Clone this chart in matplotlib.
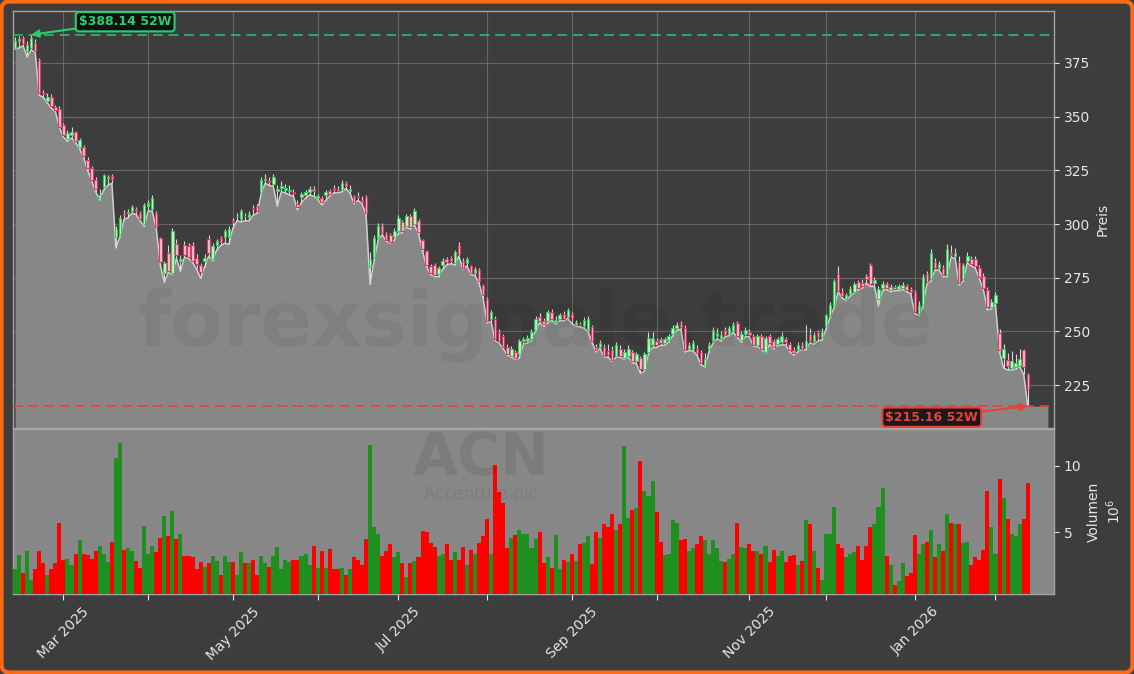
import matplotlib
matplotlib.use("Agg")
import matplotlib.pyplot as plt
import numpy as np
import pandas as pd
from matplotlib.patches import FancyBboxPatch

# ---------------- data ----------------
holidays = ["2025-02-17", "2025-04-18", "2025-05-26", "2025-06-19", "2025-07-04",
            "2025-09-01", "2025-11-27", "2025-12-25", "2026-01-01", "2026-01-19"]
dates = pd.bdate_range("2025-02-12", "2026-02-12")
dates = dates[~dates.isin(pd.to_datetime(holidays))]

opens = [
    382.2, 385.0, 386.5, 380.5, 381.8, 384.2, 376.2, 361.0, 357.4, 359.1, 354.5, 353.5,
    345.9, 339.4, 341.5, 342.9, 336.0, 336.0, 330.0, 326.1, 320.6, 312.1, 317.2, 321.5,
    322.4, 294.1, 295.0, 305.3, 304.9, 306.1, 307.0, 305.3, 300.1, 308.3, 307.0, 305.3,
    293.3, 277.1, 286.5, 277.1, 290.7, 283.0, 290.2, 289.9, 290.2, 284.4, 281.0, 283.0,
    292.9, 283.9, 290.2, 293.3, 294.1, 294.1, 301.5, 303.5, 302.2, 303.8, 303.2, 307.2,
    308.3, 315.0, 320.6, 320.6,
    318.6, 315.5, 317.0, 316.0, 315.2, 315.0, 309.5, 312.6, 313.5, 315.0, 316.4, 312.1,
    312.1, 313.5, 315.5, 317.0, 316.4, 316.0, 319.3, 315.2, 312.4, 313.0, 311.2, 312.6,
    280.0, 284.7, 293.6, 299.6, 295.3, 295.0, 294.1, 296.7, 301.0, 299.3, 303.5, 300.1,
    301.5, 292.4, 287.3, 280.5, 281.0, 276.5, 281.0, 283.7, 284.4, 282.0, 290.2, 283.0,
    281.7, 280.3, 277.1, 278.8, 271.4, 265.1, 255.7, 255.7, 249.7, 248.0, 242.9, 238.6,
    240.3, 239.4, 245.4,
    245.4, 246.3, 250.6, 256.9, 254.8, 254.8, 259.1, 254.5, 255.7, 258.2, 256.9, 257.9,
    253.1, 253.4, 252.6, 250.6, 251.9, 242.9, 242.9, 242.9, 241.0, 241.2, 238.6, 242.0,
    237.7, 238.6, 240.3, 236.0, 237.7, 232.6, 240.3, 243.7, 245.4, 246.3, 244.6, 245.8,
    248.8, 251.4, 253.5, 251.8, 242.0, 242.0, 242.0, 240.3, 234.5, 242.0, 245.4, 248.0,
    246.5, 250.6, 248.8, 250.2, 254.0, 245.8, 249.0, 249.7, 248.0, 243.7, 248.0, 240.6,
    248.0, 245.4, 244.2,
    245.1, 246.3, 244.1, 241.5, 241.2, 243.7, 242.5, 249.0, 245.0, 249.5, 247.5, 252.3,
    257.4, 261.7, 276.5, 268.5, 265.1, 267.6, 268.5, 272.8, 272.5, 275.7, 280.8, 272.3,
    265.1, 270.2, 271.9, 269.4, 270.7, 269.7, 270.2, 271.1, 269.7, 268.5, 258.2, 262.5,
    276.5, 274.5, 282.2, 279.6, 279.6, 276.2, 286.5, 285.1, 282.2, 274.5, 283.0, 283.9,
    283.5, 279.6, 275.7, 269.4, 261.2, 263.4, 249.2, 237.7, 236.5, 233.0, 233.5, 234.0,
    241.2, 230.0,
]
highs = [
    387.0, 387.5, 387.5, 385.0, 388.14, 386.0, 377.5, 362.5, 361.0, 360.5, 355.5, 355.0,
    347.0, 344.0, 345.0, 343.5, 340.0, 337.0, 331.0, 327.0, 322.0, 316.4, 323.5, 323.0,
    323.5, 299.0, 304.0, 306.5, 307.0, 309.0, 308.0, 306.0, 310.0, 311.0, 313.5, 306.0,
    294.0, 283.0, 290.0, 298.0, 293.0, 285.5, 292.0, 291.0, 291.5, 286.0, 282.0, 286.0,
    295.0, 291.0, 293.0, 294.5, 297.5, 299.0, 303.0, 305.0, 307.0, 305.0, 306.0, 309.0,
    309.5, 322.0, 323.5, 322.0,
    323.5, 318.0, 320.0, 318.5, 318.0, 316.5, 311.0, 315.0, 316.0, 317.5, 317.5, 314.0,
    313.0, 316.0, 316.5, 318.0, 317.5, 320.5, 320.0, 318.0, 313.5, 315.0, 313.0, 313.5,
    287.0, 295.0, 300.5, 300.5, 296.5, 296.0, 298.0, 304.0, 302.0, 304.5, 304.5, 307.5,
    302.5, 293.0, 288.0, 281.5, 282.0, 280.5, 284.0, 284.5, 285.0, 288.0, 291.5, 284.0,
    284.5, 281.0, 280.0, 279.5, 272.0, 266.0, 260.0, 257.0, 251.0, 249.0, 244.0, 243.0,
    241.5, 246.5, 247.5,
    248.5, 251.0, 257.0, 258.5, 256.0, 260.0, 260.5, 257.0, 258.5, 259.5, 261.0, 259.0,
    255.5, 254.5, 256.5, 257.0, 253.0, 244.0, 246.0, 244.0, 244.0, 243.0, 245.0, 243.5,
    242.0, 243.5, 241.5, 240.5, 238.5, 240.5, 249.5, 249.5, 247.0, 247.5, 247.5, 249.0,
    253.0, 254.5, 255.0, 253.0, 245.0, 246.0, 243.5, 241.5, 240.0, 245.0, 252.0, 251.5,
    250.0, 252.0, 252.5, 254.5, 255.0, 250.0, 252.0, 251.0, 249.0, 249.0, 249.0, 248.0,
    249.0, 246.5, 247.5,
    249.5, 247.5, 245.0, 242.5, 245.0, 245.0, 253.1, 251.4, 249.7, 250.6, 251.4, 258.0,
    263.5, 274.5, 280.5, 270.0, 268.0, 271.0, 273.0, 274.0, 274.5, 276.5, 282.0, 275.5,
    271.0, 273.5, 273.0, 272.0, 271.5, 272.0, 273.0, 272.0, 270.5, 269.5, 264.0, 276.5,
    278.0, 288.5, 284.0, 283.0, 281.0, 290.5, 290.0, 289.0, 285.0, 282.0, 287.0, 285.0,
    285.0, 281.0, 277.0, 270.5, 265.0, 268.5, 251.0, 244.0, 240.0, 241.0, 239.5, 242.0,
    242.0, 230.5,
]
lows = [
    381.5, 382.0, 383.0, 377.9, 381.0, 380.0, 360.0, 359.0, 356.5, 354.0, 352.5, 345.0,
    340.5, 338.5, 340.0, 338.0, 335.0, 331.0, 325.0, 320.0, 315.0, 311.2, 316.0, 318.0,
    319.0, 289.0, 294.0, 302.0, 303.0, 305.0, 304.5, 301.5, 299.0, 306.0, 306.0, 298.0,
    281.0, 272.8, 277.5, 276.5, 284.0, 278.0, 284.5, 284.0, 282.0, 279.0, 274.8, 280.0,
    285.0, 283.0, 288.0, 290.0, 291.0, 290.5, 298.0, 301.5, 301.0, 301.5, 301.5, 304.0,
    305.0, 314.0, 319.0, 318.0,
    317.5, 308.3, 315.0, 314.5, 313.5, 313.0, 306.6, 310.0, 312.0, 313.5, 313.0, 311.5,
    309.0, 311.0, 313.0, 314.5, 314.5, 315.0, 316.5, 314.5, 309.5, 311.0, 309.5, 304.4,
    271.9, 283.0, 292.5, 295.0, 292.0, 291.0, 292.5, 295.5, 296.0, 298.5, 297.5, 299.5,
    295.5, 287.5, 280.0, 276.5, 275.5, 275.5, 279.0, 281.0, 281.5, 281.0, 285.0, 279.0,
    280.5, 276.5, 276.0, 272.5, 265.5, 254.0, 254.5, 245.5, 244.5, 242.0, 239.0, 238.0,
    237.0, 237.5, 244.0,
    244.5, 245.5, 250.0, 254.0, 252.5, 254.0, 255.0, 253.5, 255.0, 255.0, 256.0, 253.5,
    252.5, 252.0, 251.5, 250.0, 245.0, 240.5, 242.0, 238.0, 238.0, 236.0, 238.0, 238.0,
    237.0, 238.0, 235.5, 235.0, 230.5, 231.5, 239.5, 242.5, 242.5, 243.5, 243.5, 245.0,
    248.0, 250.5, 251.0, 240.5, 241.0, 241.0, 239.0, 234.5, 233.5, 240.5, 244.5, 246.5,
    245.5, 247.5, 248.0, 249.5, 247.5, 245.0, 247.5, 247.5, 243.0, 243.0, 241.5, 240.0,
    244.0, 242.0, 243.5,
    243.7, 243.7, 240.5, 239.0, 240.5, 241.5, 241.5, 244.5, 244.0, 245.5, 246.0, 251.0,
    256.5, 261.0, 268.5, 265.5, 264.5, 266.5, 268.0, 269.5, 270.0, 272.5, 271.0, 271.0,
    262.0, 269.0, 269.5, 268.5, 269.0, 269.0, 269.5, 268.5, 267.5, 258.2, 257.5, 261.5,
    272.0, 273.5, 278.5, 278.5, 275.5, 275.5, 284.5, 284.0, 271.5, 273.5, 282.0, 280.5,
    279.5, 274.5, 269.5, 260.0, 260.5, 262.5, 240.5, 233.0, 232.0, 232.0, 232.5, 233.5,
    230.0, 215.16,
]
closes = [
    385.3, 386.2, 383.9, 383.5, 386.5, 380.8, 360.8, 360.5, 359.1, 354.8, 353.1, 345.4,
    341.5, 342.5, 342.9, 338.6, 339.1, 331.8, 326.1, 320.6, 316.4, 313.5, 322.7, 321.8,
    321.0, 297.6, 302.7, 304.2, 305.6, 307.8, 306.1, 302.2, 309.0, 310.0, 312.1, 298.8,
    282.2, 281.7, 278.2, 296.7, 285.6, 283.9, 285.6, 284.7, 283.0, 281.3, 277.6, 284.0,
    286.5, 289.9, 291.9, 291.6, 296.7, 297.6, 301.0, 303.9, 306.1, 303.5, 304.7, 307.0,
    306.1, 320.6, 321.0, 319.5,
    322.0, 316.4, 317.5, 316.6, 315.8, 314.5, 308.0, 313.8, 314.7, 316.2, 315.2, 312.9,
    310.4, 314.7, 314.1, 315.8, 315.5, 319.3, 317.6, 316.4, 310.4, 312.5, 310.4, 304.9,
    283.9, 293.6, 299.3, 295.9, 292.4, 291.6, 296.7, 302.7, 296.7, 303.5, 298.4, 306.1,
    296.4, 288.5, 281.0, 277.1, 276.2, 279.6, 282.7, 282.2, 283.0, 287.0, 286.1, 279.6,
    283.5, 277.1, 279.0, 273.6, 266.8, 254.8, 259.1, 246.3, 245.4, 242.9, 239.4, 242.0,
    237.7, 245.4, 246.3,
    247.1, 249.7, 255.7, 254.8, 253.6, 258.8, 255.7, 255.5, 257.4, 255.7, 260.0, 256.2,
    254.3, 252.8, 255.2, 255.7, 245.4, 241.2, 244.6, 238.6, 239.0, 236.9, 243.7, 238.6,
    240.3, 242.0, 236.0, 239.4, 232.6, 239.4, 247.1, 247.1, 243.7, 244.5, 246.3, 248.0,
    251.4, 253.1, 251.9, 241.2, 243.7, 244.6, 240.0, 235.2, 237.0, 243.7, 250.8, 249.2,
    248.5, 248.5, 251.4, 253.1, 248.0, 248.8, 250.5, 248.3, 243.7, 248.0, 242.0, 247.1,
    244.6, 242.9, 246.3,
    248.0, 245.1, 241.2, 240.0, 243.7, 242.0, 245.5, 245.4, 248.5, 247.5, 249.5, 257.4,
    262.5, 273.3, 269.0, 266.3, 266.8, 269.7, 271.9, 270.2, 271.2, 274.5, 271.9, 274.0,
    269.7, 271.9, 270.2, 270.7, 269.9, 271.1, 271.4, 269.4, 268.5, 259.1, 262.5, 275.3,
    272.8, 286.5, 279.6, 281.3, 276.2, 288.5, 285.6, 286.3, 272.3, 280.8, 285.1, 281.3,
    280.5, 275.3, 270.2, 261.2, 263.9, 267.1, 241.2, 242.0, 234.0, 236.0, 235.5, 237.0,
    233.5, 223.2,
]
volume_mio = [
    2.2, 3.3, 1.9, 3.6, 1.4, 2.2, 3.6, 2.7, 1.8, 2.2, 2.7, 5.7,
    2.9, 3.0, 2.5, 3.4, 4.4, 3.4, 3.3, 3.0, 3.6, 4.0, 3.4, 2.75,
    4.3, 10.6, 11.7, 3.7, 3.8, 3.6, 2.8, 2.3, 5.5, 3.4, 4.0, 3.5,
    4.6, 6.2, 4.7, 6.6, 4.5, 4.9, 3.25, 3.2, 3.1, 2.25, 2.75, 2.4,
    2.7, 3.25, 2.8, 1.8, 3.2, 2.75, 2.75, 1.8, 3.5, 2.7, 2.7, 2.9,
    1.8, 3.25, 2.7, 2.4,
    3.2, 3.9, 2.2, 2.9, 2.75, 2.9, 2.9, 3.2, 3.4, 2.5, 4.0, 2.3,
    3.6, 2.3, 3.75, 2.25, 2.25, 2.3, 1.8, 2.2, 3.1, 2.9, 2.5, 4.5,
    11.6, 5.4, 4.9, 3.2, 3.6, 4.1, 3.1, 3.5, 2.7, 1.6, 2.7, 2.8,
    3.1, 5.1, 5.0, 4.2, 3.9, 3.2, 3.4, 4.1, 2.9, 3.5, 2.9, 3.9,
    2.5, 3.7, 3.4, 4.2, 4.75, 6.0, 3.4, 10.1, 8.0, 7.2, 3.8, 4.6,
    4.8, 5.2, 4.9,
    4.9, 3.8, 4.5, 5.0, 2.7, 3.1, 2.3, 4.8, 2.2, 2.9, 2.75, 3.4,
    2.8, 4.1, 4.2, 4.7, 2.6, 5.0, 4.6, 5.6, 5.4, 6.4, 5.2, 5.6,
    11.5, 6.1, 6.7, 6.8, 10.4, 8.1, 7.7, 8.9, 6.5, 4.3, 3.3, 3.4,
    5.9, 5.7, 4.4, 4.5, 3.6, 3.8, 4.1, 4.75, 4.4, 3.4, 4.4, 3.8,
    2.8, 2.75, 3.0, 3.4, 5.7, 3.9, 3.8, 4.1, 3.6, 3.6, 3.4, 4.0,
    2.75, 3.7, 3.2,
    3.6, 2.75, 3.2, 3.3, 2.5, 2.8, 5.9, 5.6, 3.6, 2.3, 1.4, 4.9,
    4.9, 6.9, 4.1, 3.8, 3.1, 3.4, 3.5, 4.0, 2.9, 4.0, 5.4, 5.6,
    6.9, 8.3, 3.2, 2.5, 1.05, 1.3, 2.7, 1.7, 1.9, 4.8, 3.4, 4.1,
    4.25, 5.2, 3.1, 4.1, 3.6, 6.4, 5.7, 5.6, 5.6, 4.2, 4.3, 2.5,
    3.1, 2.9, 3.7, 8.1, 5.4, 3.4, 9.0, 7.6, 6.0, 4.9, 4.75, 5.6,
    6.0, 8.7,
]
high_52w = 388.14
low_52w = 215.16
ticker = "ACN"
company = "Accenture plc"
watermark = "forexsignale.trade"

# ---------------- style ----------------
W, H = 1134, 674
BG = "#3d3d3d"
FILL = "#878787"
UP_EDGE, UP_FACE = "#3cc85a", "#cdeed2"
DN_EDGE, DN_FACE = "#dc3a66", "#f2bfcc"
GREEN = "#2ecc71"
RED = "#e8413a"
TXT = "#e6e6e6"
SPINE = "#a5a5a5"

o = np.array(opens); h = np.array(highs); l = np.array(lows)
c = np.array(closes); v = np.array(volume_mio)
n = len(c)
x = np.arange(n)
up = c >= o

fig = plt.figure(figsize=(W / 100, H / 100), dpi=100, facecolor=BG)
ax = fig.add_axes([13 / W, (H - 428) / H, (1054 - 13) / W, (428 - 11) / H])
axv = fig.add_axes([13 / W, (H - 594) / H, (1054 - 13) / W, (594 - 429) / H], sharex=ax)

# ---------- price panel ----------
ax.set_facecolor(BG)
ymin, ymax = 205.0, 399.2
ax.set_ylim(ymin, ymax)
ax.set_xlim(-0.5, n + 5.5)
xf = np.append(x, n + 4)
lf = np.append(l, l[-1])
ax.fill_between(xf, lf, ymin, color=FILL, zorder=2, linewidth=0)
ax.plot(x, l, color="#cfcfcf", lw=1.1, zorder=3)
ax.vlines(x, l, h, color="#d8d8d8", lw=0.8, zorder=4)
body_b = np.minimum(o, c)
body_h = np.maximum(np.abs(c - o), 0.35)
ax.bar(x[up], body_h[up], bottom=body_b[up], width=0.62, color=UP_FACE,
       edgecolor=UP_EDGE, linewidth=0.8, zorder=5)
ax.bar(x[~up], body_h[~up], bottom=body_b[~up], width=0.62, color=DN_FACE,
       edgecolor=DN_EDGE, linewidth=0.8, zorder=5)

ax.axhline(high_52w, color=GREEN, lw=1.4, ls=(0, (5, 3)), alpha=0.75, zorder=6)
ax.axhline(low_52w, color=RED, lw=1.4, ls=(0, (5, 3)), alpha=0.8, zorder=6)

i_hi = int(np.argmax(h))
i_lo = int(np.argmin(l))
ax.annotate(r"\$%.2f 52W" % high_52w, xy=(i_hi, high_52w), xytext=(94, 13),
            textcoords="offset pixels", ha="center", va="center",
            fontsize=9, fontweight="bold", color=GREEN, zorder=10,
            bbox=dict(boxstyle="round,pad=0.25", fc="#111111", ec=GREEN, lw=1.5),
            arrowprops=dict(arrowstyle="-|>", color=GREEN, lw=1.5, mutation_scale=11,
                            shrinkA=0, shrinkB=0))
ax.annotate(r"\$%.2f 52W" % low_52w, xy=(i_lo, low_52w), xytext=(-96, -11),
            textcoords="offset pixels", ha="center", va="center",
            fontsize=9, fontweight="bold", color=RED, zorder=10,
            bbox=dict(boxstyle="round,pad=0.25", fc="#1a1a1a", ec=RED, lw=1.5),
            arrowprops=dict(arrowstyle="-|>", color=RED, lw=1.5, mutation_scale=11,
                            shrinkA=0, shrinkB=0))

ax.yaxis.tick_right()
ax.yaxis.set_label_position("right")
ax.set_yticks([225, 250, 275, 300, 325, 350, 375])
ax.set_ylabel("Preis", color=TXT, fontsize=10)
ax.tick_params(axis="y", colors=TXT, labelsize=10)
ax.tick_params(axis="x", which="both", bottom=False, labelbottom=False)
ax.grid(True, color="#737373", lw=0.8, alpha=0.75, zorder=0)
ax.set_axisbelow(True)
for s in ax.spines.values():
    s.set_color(SPINE)
    s.set_linewidth(1.0)

# ---------- volume panel ----------
axv.set_facecolor(FILL)
vcol = np.where(up, "#1f8f1f", "#ff0000")
axv.bar(x, v, width=1.0, color=vcol, linewidth=0, zorder=3)
axv.set_ylim(0.35, 12.78)
axv.yaxis.tick_right()
axv.yaxis.set_label_position("right")
axv.set_yticks([5, 10])
axv.set_ylabel("Volumen\n$10^6$", color=TXT, fontsize=10)
axv.tick_params(axis="y", colors=TXT, labelsize=10)
for s in axv.spines.values():
    s.set_color(SPINE)
    s.set_linewidth(1.0)

# month ticks at first trading day of each month, label odd months
months = dates.to_period("M")
starts = [i for i in range(1, n) if months[i] != months[i - 1]]
labels = [dates[i].strftime("%b %Y") if dates[i].month % 2 == 1 else "" for i in starts]
axv.set_xticks(starts)
axv.set_xticklabels(labels, rotation=45, ha="center", color=TXT, fontsize=10)
axv.tick_params(axis="x", colors=TXT, length=4)
ax.set_xticks(starts)

# ---------- watermarks ----------
fig.text(535 / W, 1 - 325 / H, watermark, fontsize=55, fontweight="bold",
         color="black", alpha=0.055, ha="center", va="center", zorder=20)
fig.text(481 / W, 1 - 458 / H, ticker, fontsize=42, fontweight="bold",
         color="black", alpha=0.075, ha="center", va="center", zorder=20)
fig.text(481 / W, 1 - 494 / H, company, fontsize=12,
         color="black", alpha=0.075, ha="center", va="center", zorder=20)

# ---------- orange frame ----------
frame = FancyBboxPatch((1.5, 1.5), W - 3, H - 3, boxstyle="round,pad=0,rounding_size=8",
                       transform=None, fill=False, edgecolor="#ff6a13", linewidth=3)
fig.patches.append(frame)

fig.savefig("out.png", dpi=100, facecolor=BG)
